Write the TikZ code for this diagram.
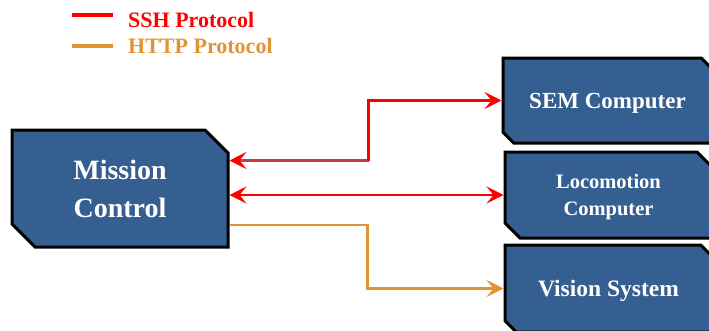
\documentclass[tikz,border=0pt]{standalone}
\usepackage{fontspec}
\setmainfont{Liberation Serif}
\usetikzlibrary{arrows.meta,shapes.misc,calc}

\definecolor{boxblue}{RGB}{54,95,145}
\definecolor{httporange}{RGB}{226,148,52}
\definecolor{sshdark}{RGB}{196,64,60}

\tikzset{
  unit/.style={chamfered rectangle, chamfered rectangle corners={north east,south west},
    draw=black, line width=3pt, fill=boxblue, text=white, font=\bfseries, align=center,
    inner sep=0pt, text depth=0pt, chamfered rectangle xsep=12pt},
  ssh/.style={draw=red, line width=2.5pt},
  http/.style={draw=httporange, line width=2.5pt},
  keytext/.style={anchor=base west, inner sep=0pt, font=\bfseries\fontsize{22}{24}\selectfont},
}

\begin{document}
\begin{tikzpicture}[x=1pt,y=-1pt,>={Stealth[length=17pt,width=17pt,inset=7pt]}]
    \useasboundingbox (0,0) rectangle (709,330);
    % legend
    \draw[red, line width=4pt] (72,15) -- (113,15);
    \draw[httporange, line width=4pt] (72,46) -- (113,46);
    \node[keytext, text=red] (sshkey) at (128,27) {SSH Protocol};
    \node[keytext, text=httporange] (httpkey) at (128,53) {HTTP Protocol};
    % units
    \node[unit, minimum width=216pt, minimum height=117pt, chamfered rectangle xsep=20pt, font=\bfseries\fontsize{28}{38}\selectfont] (mc) at (120,188.5) {Mission\\Control};
    \node[unit, minimum width=209pt, minimum height=85pt, font=\bfseries\fontsize{23}{28}\selectfont] (sem) at (607.5,100.5) {SEM Computer};
    \node[unit, minimum width=207pt, minimum height=86pt, font=\bfseries\fontsize{20.5}{27}\selectfont] (loco) at (608.5,195) {Locomotion\\Computer};
    \node[unit, minimum width=207pt, minimum height=87pt, font=\bfseries\fontsize{23.5}{28}\selectfont] (vis) at (608.5,288.5) {Vision System};
    % links
    \coordinate (sshbend) at ($(mc.east)+(139,-28)$);
    \draw[ssh, draw=sshdark, {Stealth[length=17pt,width=17pt,inset=7pt,color=red]}-] ([yshift=28pt]mc.east) -- (sshbend);
    \draw[ssh, ->] (sshbend) |- (sem.west);
    \draw[ssh, <->] (loco.west -| mc.east) -- (loco.west);
    \draw[http, ->] ([yshift=-36.5pt]mc.east) -- ++(138,0) |- (vis.west);
\end{tikzpicture}
\end{document}
